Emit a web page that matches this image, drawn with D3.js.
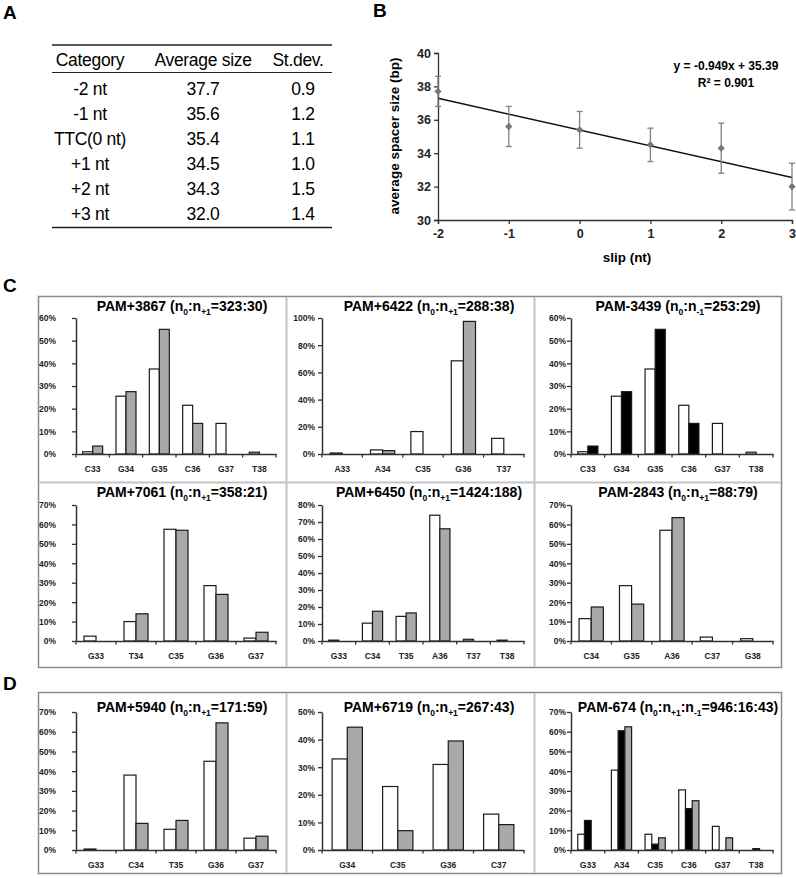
<!DOCTYPE html>
<html><head><meta charset="utf-8">
<script src="https://cdn.jsdelivr.net/npm/d3@7"></script>
<style>body{margin:0;background:#fff}svg{display:block}</style>
</head><body><svg id="fig" width="796" height="878"></svg>
<script>
// ---------- Panel A / B data ----------
const tableHeaders = ["Category", "Average size", "St.dev."];
const tableCategories = ["-2 nt", "-1 nt", "TTC(0 nt)", "+1 nt", "+2 nt", "+3 nt"];
const tableAverage = ["37.7", "35.6", "35.4", "34.5", "34.3", "32.0"];
const tableStdev = ["0.9", "1.2", "1.1", "1.0", "1.5", "1.4"];
const slipValues = [-2, -1, 0, 1, 2, 3];
const trendSlope = -0.949;
const trendIntercept = 35.39;
const trendText = ["y = -0.949x + 35.39", "R² = 0.901"];
const bYTicks = [30, 32, 34, 36, 38, 40];

// ---------- Panel C / D data ----------
const c1Title = "PAM+3867 (n_{0}:n_{+1}=323:30)";
const c1Categories = ["C33", "G34", "G35", "C36", "G37", "T38"];
const c1N0 = [1, 25.5, 37.5, 21.5, 13.5, 0.8];
const c1Np1 = [3.5, 27.5, 55, 13.5, 0, 0];

const c2Title = "PAM+6422 (n_{0}:n_{+1}=288:38)";
const c2Categories = ["A33", "A34", "C35", "G36", "T37"];
const c2N0 = [0.7, 3, 16.5, 68.5, 11.5];
const c2Np1 = [0, 2.5, 0, 97.5, 0];

const c3Title = "PAM-3439 (n_{0}:n_{-1}=253:29)";
const c3Categories = ["C33", "G34", "G35", "C36", "G37", "T38"];
const c3N0 = [1, 25.5, 37.5, 21.5, 13.5, 0.8];
const c3Nm1 = [3.5, 27.5, 55, 13.5, 0, 0];

const c4Title = "PAM+7061 (n_{0}:n_{+1}=358:21)";
const c4Categories = ["G33", "T34", "C35", "G36", "G37"];
const c4N0 = [2.5, 10, 57.5, 28.5, 1.5];
const c4Np1 = [0, 14, 57, 24, 4.5];

const c5Title = "PAM+6450 (n_{0}:n_{+1}=1424:188)";
const c5Categories = ["G33", "C34", "T35", "A36", "T37", "T38"];
const c5N0 = [0.5, 10.5, 14.5, 74, 1, 0.5];
const c5Np1 = [0, 17.5, 16.5, 66, 0, 0];

const c6Title = "PAM-2843 (n_{0}:n_{+1}=88:79)";
const c6Categories = ["C34", "G35", "A36", "C37", "G38"];
const c6N0 = [11.5, 28.5, 57, 2, 1.2];
const c6Np1 = [17.5, 19, 63.5, 0, 0];

const d1Title = "PAM+5940 (n_{0}:n_{+1}=171:59)";
const d1Categories = ["G33", "C34", "T35", "G36", "G37"];
const d1N0 = [0.5, 38, 10.5, 45, 6];
const d1Np1 = [0, 13.5, 15, 64.5, 7];

const d2Title = "PAM+6719 (n_{0}:n_{+1}=267:43)";
const d2Categories = ["G34", "C35", "G36", "C37"];
const d2N0 = [33, 23, 31, 13];
const d2Np1 = [44.5, 7, 39.5, 9.2];

const d3Title = "PAM-674 (n_{0}:n_{+1}:n_{-1}=946:16:43)";
const d3Categories = ["G33", "A34", "C35", "C36", "G37", "T38"];
const d3N0 = [8, 40.5, 8, 30.5, 12, 0];
const d3Np1 = [15, 60.5, 3, 21, 0, 0.7];
const d3Nm1 = [0, 62.5, 6.2, 25, 6.2, 0];

const yMaxes = { c1: 60, c2: 100, c3: 60, c4: 70, c5: 80, c6: 70, d1: 70, d2: 50, d3: 70 };
const ySteps = { c1: 10, c2: 20, c3: 10, c4: 10, c5: 10, c6: 10, d1: 10, d2: 10, d3: 10 };

// ---------- styles ----------
const WHITE = "#ffffff", GRAY = "#a9a9a9", BLACK = "#000000";
const FONT = "Arial, 'Liberation Sans', Helvetica, sans-serif";

const svg = d3.select("#fig").style("font-family", FONT);

// ---------- panel letters ----------
const letters = [["A", 3, 19], ["B", 373, 17], ["C", 3, 292], ["D", 3, 690]];
svg.selectAll("text.letter").data(letters).join("text")
  .attr("class", "letter").attr("x", d => d[1]).attr("y", d => d[2])
  .attr("font-size", 19).attr("font-weight", "bold").text(d => d[0]);

// ---------- Panel A : table ----------
(function () {
  const g = svg.append("g");
  const left = 52, right = 332;
  const colX = [90, 203, 298];
  const valX = [90, 203, 303];
  const headerY = 66, rowY0 = 94.5, rowStep = 25;
  g.append("line").attr("x1", left).attr("x2", right).attr("y1", 45).attr("y2", 45).attr("stroke", "#222").attr("stroke-width", 1.6);
  g.append("line").attr("x1", left).attr("x2", right).attr("y1", 72.5).attr("y2", 72.5).attr("stroke", "#222").attr("stroke-width", 1);
  g.append("line").attr("x1", left).attr("x2", right).attr("y1", 227.5).attr("y2", 227.5).attr("stroke", "#222").attr("stroke-width", 1.6);
  g.selectAll("text.h").data(tableHeaders).join("text").attr("class", "h")
    .attr("x", (d, i) => colX[i]).attr("y", headerY).attr("text-anchor", "middle")
    .attr("font-size", 17.5).attr("letter-spacing", -0.3).text(d => d);
  const rows = tableCategories.map((c, i) => [c, tableAverage[i], tableStdev[i]]);
  rows.forEach((r, i) => {
    g.selectAll("text.r" + i).data(r).join("text").attr("class", "r" + i)
      .attr("x", (d, j) => valX[j]).attr("y", rowY0 + i * rowStep).attr("text-anchor", "middle")
      .attr("font-size", 17.5).attr("letter-spacing", -0.3).text(d => d);
  });
})();

// ---------- Panel B : scatter with error bars ----------
(function () {
  const g = svg.append("g");
  const x = d3.scaleLinear().domain([-2, 3]).range([438, 792]);
  const y = d3.scaleLinear().domain([30, 40]).range([220, 53]);
  const yAx = g.append("g").attr("transform", "translate(438,0)")
    .call(d3.axisLeft(y).tickValues(bYTicks).tickSize(4).tickPadding(3).tickFormat(d3.format("d")));
  const xAx = g.append("g").attr("transform", "translate(0,220)")
    .call(d3.axisBottom(x).tickValues(slipValues).tickSize(4).tickPadding(5).tickFormat(d3.format("d")));
  [yAx, xAx].forEach(a => {
    a.select(".domain").attr("stroke", "#333").attr("stroke-width", 1.3);
    a.selectAll(".tick line").attr("stroke", "#333").attr("stroke-width", 1.3);
    a.selectAll("text").attr("font-size", 12.5).attr("font-weight", "bold").attr("fill", "#222").attr("font-family", FONT);
  });
  xAx.selectAll(".tick text").text(d => d < 0 ? "-" + Math.abs(d) : String(d));
  // trend line
  g.append("line")
    .attr("x1", x(-2)).attr("y1", y(trendSlope * -2 + trendIntercept))
    .attr("x2", x(3)).attr("y2", y(trendSlope * 3 + trendIntercept))
    .attr("stroke", "#111").attr("stroke-width", 1.5);
  const pts = slipValues.map((s, i) => ({ s, m: +tableAverage[i], sd: +tableStdev[i] }));
  const eb = g.append("g").attr("stroke", "#808080").attr("stroke-width", 1.3);
  pts.forEach(p => {
    eb.append("line").attr("x1", x(p.s)).attr("x2", x(p.s)).attr("y1", y(p.m - p.sd)).attr("y2", y(p.m + p.sd));
    [p.m - p.sd, p.m + p.sd].forEach(v => eb.append("line").attr("x1", x(p.s) - 3).attr("x2", x(p.s) + 3).attr("y1", y(v)).attr("y2", y(v)));
  });
  g.selectAll("path.pt").data(pts).join("path").attr("class", "pt")
    .attr("d", d3.symbol(d3.symbolDiamond2, 34))
    .attr("transform", d => `translate(${x(d.s)},${y(d.m)})`)
    .attr("fill", "#777");
  g.append("text").attr("x", 726).attr("y", 70).attr("text-anchor", "middle")
    .attr("font-size", 12).attr("font-weight", "bold").text(trendText[0]);
  g.append("text").attr("x", 726).attr("y", 87).attr("text-anchor", "middle")
    .attr("font-size", 12).attr("font-weight", "bold").text(trendText[1]);
  g.append("text").attr("transform", "translate(399,136) rotate(-90)").attr("text-anchor", "middle")
    .attr("font-size", 13.5).attr("font-weight", "bold").text("average spacer size (bp)");
  g.append("text").attr("x", 627).attr("y", 262).attr("text-anchor", "middle")
    .attr("font-size", 13.5).attr("font-weight", "bold").text("slip (nt)");
})();

// ---------- frames ----------
function frame(y0, y1, rows) {
  const g = svg.append("g");
  g.append("rect").attr("x", 38.5).attr("y", y0 + 0.5).attr("width", 743).attr("height", y1 - y0)
    .attr("fill", "none").attr("stroke", "#8a8a8a").attr("stroke-width", 1.5);
  [286.5, 534.5].forEach(xv => g.append("line").attr("x1", xv).attr("x2", xv).attr("y1", y0 + 1).attr("y2", y1)
    .attr("stroke", "#c4c4c4").attr("stroke-width", 2));
  rows.forEach(yv => g.append("line").attr("x1", 39).attr("x2", 781).attr("y1", yv).attr("y2", yv)
    .attr("stroke", "#c4c4c4").attr("stroke-width", 2));
}
frame(296, 667, [482.5]);
frame(692, 873, []);

// ---------- bar panel ----------
function titleText(sel, str) {
  const parts = str.split(/(_\{[^}]*\})/).filter(s => s.length);
  let back = 0;
  parts.forEach(p => {
    if (p.startsWith("_{")) {
      sel.append("tspan").attr("font-size", 8.5).attr("dy", 3.5).text(p.slice(2, -1));
      back = -3.5;
    } else {
      sel.append("tspan").attr("font-size", 14).attr("dy", back).text(p);
      back = 0;
    }
  });
}

function barPanel(cfg) {
  const g = svg.append("g");
  const x = d3.scaleBand().domain(cfg.categories).range([cfg.x0, cfg.x1]).paddingInner(0).paddingOuter(0);
  const y = d3.scaleLinear().domain([0, cfg.yMax]).range([cfg.yBottom, cfg.yTop]);
  const n = cfg.series.length;
  const inner = d3.scaleBand().domain(d3.range(n)).range([0, x.bandwidth()]).paddingInner(0).paddingOuter(n / 3);
  // bars
  cfg.series.forEach((s, si) => {
    const data = cfg.categories.map((c, i) => ({ c, v: s.values[i] })).filter(d => d.v > 0);
    g.selectAll("rect.s" + si).data(data).join("rect").attr("class", "s" + si)
      .attr("x", d => x(d.c) + inner(si)).attr("width", inner.bandwidth())
      .attr("y", d => y(d.v)).attr("height", d => y(0) - y(d.v))
      .attr("fill", s.fill).attr("stroke", "#1a1a1a").attr("stroke-width", 1.2);
  });
  // y axis
  const ticks = d3.range(0, cfg.yMax + 0.001, cfg.yStep);
  const ya = g.append("g").attr("transform", `translate(${cfg.x0},0)`)
    .call(d3.axisLeft(y).tickValues(ticks).tickFormat(d => d + "%").tickSize(4).tickSizeOuter(0));
  ya.select(".domain").attr("stroke", "#333").attr("stroke-width", 1.5);
  ya.selectAll(".tick line").attr("stroke", "#333").attr("stroke-width", 1.3);
  ya.selectAll(".tick text").attr("x", cfg.labelRight - cfg.x0).attr("dy", "0.35em")
    .attr("font-size", 8.5).attr("font-weight", "bold").attr("fill", "#222").attr("font-family", FONT);
  // x axis
  const xa = g.append("g").attr("transform", `translate(0,${cfg.yBottom})`)
    .call(d3.axisBottom(x).tickSize(0).tickPadding(12).tickSizeOuter(0));
  xa.select(".domain").attr("stroke", "#333").attr("stroke-width", 1.5);
  xa.selectAll(".tick text").attr("font-size", 8.5).attr("font-weight", "bold").attr("fill", "#222").attr("font-family", FONT);
  const bounds = cfg.categories.map(c => x(c)).concat([x.range()[1]]);
  g.selectAll("line.xt").data(bounds).join("line").attr("class", "xt")
    .attr("x1", d => d).attr("x2", d => d).attr("y1", cfg.yBottom).attr("y2", cfg.yBottom + 3.5)
    .attr("stroke", "#333").attr("stroke-width", 1.3);
  // title
  const t = g.append("text").attr("x", (cfg.x0 + cfg.x1) / 2 + 6).attr("y", cfg.titleY)
    .attr("text-anchor", "middle").attr("font-weight", "bold");
  titleText(t, cfg.title);
}

const cols = [
  { x0: 76, x1: 276, labelRight: 56 },
  { x0: 322, x1: 524, labelRight: 315 },
  { x0: 571, x1: 773, labelRight: 566 }
];
const rowsGeom = [
  { yTop: 318, yBottom: 454, titleY: 311 },
  { yTop: 505, yBottom: 641, titleY: 497 },
  { yTop: 712, yBottom: 850, titleY: 712 }
];
const panels = [
  { k: "c1", title: c1Title, categories: c1Categories, series: [{ values: c1N0, fill: WHITE }, { values: c1Np1, fill: GRAY }], r: 0, c: 0 },
  { k: "c2", title: c2Title, categories: c2Categories, series: [{ values: c2N0, fill: WHITE }, { values: c2Np1, fill: GRAY }], r: 0, c: 1 },
  { k: "c3", title: c3Title, categories: c3Categories, series: [{ values: c3N0, fill: WHITE }, { values: c3Nm1, fill: BLACK }], r: 0, c: 2 },
  { k: "c4", title: c4Title, categories: c4Categories, series: [{ values: c4N0, fill: WHITE }, { values: c4Np1, fill: GRAY }], r: 1, c: 0 },
  { k: "c5", title: c5Title, categories: c5Categories, series: [{ values: c5N0, fill: WHITE }, { values: c5Np1, fill: GRAY }], r: 1, c: 1 },
  { k: "c6", title: c6Title, categories: c6Categories, series: [{ values: c6N0, fill: WHITE }, { values: c6Np1, fill: GRAY }], r: 1, c: 2 },
  { k: "d1", title: d1Title, categories: d1Categories, series: [{ values: d1N0, fill: WHITE }, { values: d1Np1, fill: GRAY }], r: 2, c: 0 },
  { k: "d2", title: d2Title, categories: d2Categories, series: [{ values: d2N0, fill: WHITE }, { values: d2Np1, fill: GRAY }], r: 2, c: 1 },
  { k: "d3", title: d3Title, categories: d3Categories, series: [{ values: d3N0, fill: WHITE }, { values: d3Np1, fill: BLACK }, { values: d3Nm1, fill: GRAY }], r: 2, c: 2 }
];
panels.forEach(p => barPanel(Object.assign({}, cols[p.c], rowsGeom[p.r], {
  title: p.title, categories: p.categories, series: p.series, yMax: yMaxes[p.k], yStep: ySteps[p.k]
})));
</script></body></html>
